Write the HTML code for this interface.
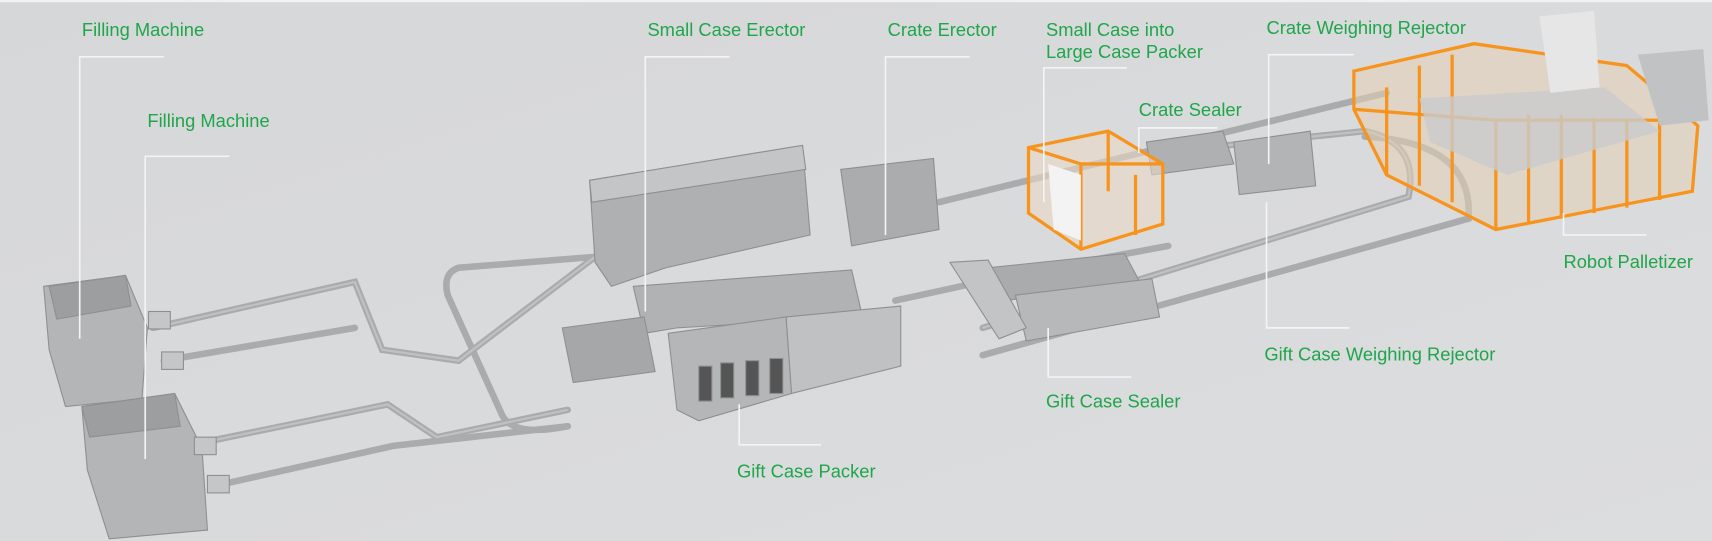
<!DOCTYPE html>
<html><head><style>
html,body{margin:0;padding:0;background:#d9dadc;}
svg{display:block}
text{font-family:"Liberation Sans",sans-serif;font-size:16.8px;fill:#1fa64a;}
</style></head><body>
<svg width="1712" height="541" viewBox="0 0 1568 495" preserveAspectRatio="none">
<defs>
<linearGradient id="bg" x1="0" y1="0" x2="1" y2="1"><stop offset="0" stop-color="#d6d7d9"/><stop offset="1" stop-color="#dcdddf"/></linearGradient>
</defs>
<rect width="1568" height="495" fill="url(#bg)"/>
<rect width="1568" height="2" fill="#f2f2f2"/>
<g fill="none" stroke="#a9abad" stroke-width="6" stroke-linecap="round">
<path d="M140 300 L325 258 L350 320 L420 330 L545 235"/>
<path d="M150 330 L325 300"/>
<path d="M185 405 L355 370 L400 400 L520 375"/>
<path d="M195 445 L360 408 L520 390"/>
<path d="M545 235 L420 245 Q405 250 410 270 L460 380 Q470 400 520 390"/>
<path d="M820 275 L935 250 L1070 225"/>
<path d="M860 185 L1270 85"/>
<path d="M1055 140 L1250 120 Q1300 130 1290 180 L900 300"/>
<path d="M1250 125 Q1350 130 1345 200 L900 325"/>
</g>
<g fill="none" stroke="#bfc1c3" stroke-width="2">
<path d="M140 300 L325 258 L350 320 L420 330 L545 235"/>
<path d="M185 405 L355 370 L400 400 L520 375"/>
<path d="M1055 140 L1250 120 Q1300 130 1290 180 L900 300"/>
</g>
<g stroke="#8d8f91" stroke-width="1">
<polygon points="40,262 115,252 135,300 130,365 60,372 45,320" fill="#b3b5b7"/>
<polygon points="45,262 115,252 120,280 52,292" fill="#9c9ea0"/>
<polygon points="75,372 160,360 185,410 190,485 100,493 80,430" fill="#b3b5b7"/>
<polygon points="75,372 160,360 165,390 82,400" fill="#9c9ea0"/>
<rect x="136" y="285" width="20" height="16" fill="#c4c6c8"/>
<rect x="148" y="322" width="20" height="16" fill="#c4c6c8"/>
<rect x="178" y="400" width="20" height="16" fill="#c4c6c8"/>
<rect x="190" y="435" width="20" height="16" fill="#c4c6c8"/>
<polygon points="540,165 735,133 742,215 610,245 560,262 545,240" fill="#aeb0b2"/>
<polygon points="540,165 735,133 738,155 542,185" fill="#c3c5c7"/>
<polygon points="770,155 855,145 860,210 780,225" fill="#aaacae"/>
<polygon points="580,262 780,247 790,290 620,300 590,305" fill="#b0b2b4"/>
<polygon points="515,300 590,290 600,340 525,350" fill="#a5a7a9"/>
<polygon points="612,305 720,290 725,360 640,385 620,375" fill="#b4b6b8"/>
<polygon points="720,290 825,280 825,335 725,360" fill="#bfc1c3"/>
<rect x="640" y="335" width="12" height="32" fill="#555"/>
<rect x="660" y="332" width="12" height="32" fill="#555"/>
<rect x="683" y="330" width="12" height="32" fill="#555"/>
<rect x="705" y="328" width="12" height="32" fill="#555"/>
<polygon points="905,245 1030,232 1045,260 920,275" fill="#a9abad"/>
<polygon points="930,270 1055,255 1062,290 940,312" fill="#b6b8ba"/>
<polygon points="870,240 905,238 940,300 915,310" fill="#c2c4c6"/>
<polygon points="1130,130 1200,120 1205,170 1135,178" fill="#b2b4b6"/>
<polygon points="1050,130 1120,120 1130,150 1055,160" fill="#aeb0b2"/>
</g>
<g stroke="#f7941d" stroke-width="3" fill="none">
<polygon points="942,135 1015,120 1065,150 1065,205 990,228 942,195" fill="#e9d8c4" fill-opacity="0.6"/>
<path d="M942 135 L990 150 L1065 150 M990 150 L990 228 M1015 120 L1015 175 M1040 160 L1040 215"/>
</g>
<polygon points="960,150 990,160 990,220 965,210" fill="#f3f3f3"/>
<g stroke="#f7941d" stroke-width="3" fill="none">
<polygon points="1240,65 1350,40 1490,60 1555,115 1550,175 1370,210 1270,160 1240,100" fill="#e3cfb5" fill-opacity="0.55"/>
<path d="M1240 100 L1370 110 L1550 110 M1370 110 L1370 210 M1270 80 L1270 160 M1300 60 L1300 170 M1330 50 L1330 185 M1400 105 L1400 205 M1430 105 L1430 200 M1460 108 L1460 195 M1490 110 L1490 190 M1520 112 L1520 183"/>
</g>
<polygon points="1300,90 1470,80 1520,120 1380,160 1310,130" fill="#c9cbcd" opacity="0.8"/>
<polygon points="1410,15 1460,10 1465,80 1420,85" fill="#e6e6e6"/>
<polygon points="1500,50 1560,45 1565,110 1520,115" fill="#c0c2c4"/>
<g fill="none" stroke="#f4f4f4" stroke-width="1.5">
<path d="M150 52 H73 V310"/>
<path d="M210 143 H133 V420"/>
<path d="M668 52 H591 V285"/>
<path d="M888 52 H811 V215"/>
<path d="M1032 62 H956 V185"/>
<path d="M1115 117 H1043 V140"/>
<path d="M1240 50 H1162 V150"/>
<path d="M1432 195 V215 H1508"/>
<path d="M1160 185 V300 H1236"/>
<path d="M960 300 V345 H1036"/>
<path d="M677 370 V407 H752"/>
</g>
<text x="75" y="33">Filling Machine</text>
<text x="135" y="116">Filling Machine</text>
<text x="593" y="33">Small Case Erector</text>
<text x="813" y="33">Crate Erector</text>
<text x="958" y="33">Small Case into</text>
<text x="958" y="53">Large Case Packer</text>
<text x="1043" y="106">Crate Sealer</text>
<text x="1160" y="31">Crate Weighing Rejector</text>
<text x="1432" y="245">Robot Palletizer</text>
<text x="1158" y="330">Gift Case Weighing Rejector</text>
<text x="958" y="373">Gift Case Sealer</text>
<text x="675" y="437">Gift Case Packer</text>
</svg>
</body></html>
